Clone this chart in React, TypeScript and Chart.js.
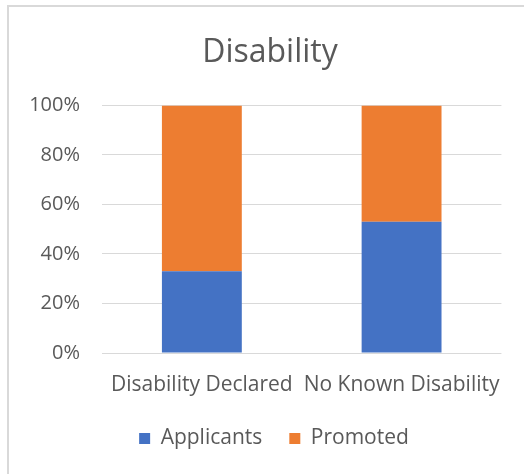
import React, { useEffect, useRef } from "react";
import { Chart, registerables } from "chart.js";

Chart.register(...registerables);

const categories = ["Disability Declared", "No Known Disability"];
const applicants = [33, 53];
const promoted = [67, 47];
const yTicks = [0, 20, 40, 60, 80, 100];

const FONT = "'Open Sans', sans-serif";
const TEXT = "#595959";

// shift title and legend horizontally to sit centred on the framed area
const shiftBlocks = {
  id: "shiftBlocks",
  afterLayout(chart: any) {
    if (chart.titleBlock) {
      chart.titleBlock.left += 19;
      chart.titleBlock.right += 19;
    }
    if (chart.legend) {
      chart.legend.left += 23;
      chart.legend.right += 23;
    }
  },
};

export default function App() {
  const ref = useRef<HTMLCanvasElement>(null);
  useEffect(() => {
    const ctx = ref.current!;
    const chart = new Chart(ctx, {
      type: "bar",
      data: {
        labels: categories,
        datasets: [
          { label: "Applicants", data: applicants, backgroundColor: "#4472C4", borderWidth: 0 },
          { label: "Promoted", data: promoted, backgroundColor: "#ED7D31", borderWidth: 0 },
        ],
      },
      plugins: [shiftBlocks],
      options: {
        animation: false,
        responsive: false,
        layout: { padding: { left: 0, right: 22, top: 0, bottom: 15 } },
        datasets: { bar: { barPercentage: 0.4, categoryPercentage: 1 } } as any,
        scales: {
          x: {
            stacked: true,
            grid: { display: false, drawTicks: false },
            border: { display: false },
            ticks: { color: TEXT, font: { family: FONT, size: 21 }, padding: 19, maxRotation: 0, autoSkip: false },
            afterFit: (axis: any) => {
              axis.height = 48;
            },
          },
          y: {
            stacked: true,
            min: 0,
            max: 100,
            afterBuildTicks: (axis: any) => {
              axis.ticks = yTicks.map((v) => ({ value: v }));
            },
            afterFit: (axis: any) => {
              axis.width = 102;
            },
            grid: { color: "#d9d9d9", lineWidth: 1, drawTicks: false },
            border: { display: false },
            ticks: {
              color: TEXT,
              font: { family: FONT, size: 20 },
              padding: 22,
              callback: (v: any) => v + "%",
            },
          },
        },
        plugins: {
          title: {
            display: true,
            text: "Disability",
            color: TEXT,
            font: { family: FONT, size: 32, weight: "normal" },
            padding: { top: 34, bottom: 33 },
          },
          legend: {
            position: "bottom",
            labels: {
              color: TEXT,
              font: { family: FONT, size: 21 },
              boxWidth: 11,
              boxHeight: 11,
              padding: 27,
            },
          },
          tooltip: { enabled: false },
        },
      },
    });
    return () => chart.destroy();
  }, []);
  return (
    <div
      style={{
        position: "fixed",
        left: 0,
        top: 0,
        width: 524,
        height: 474,
        background: "#fff",
        overflow: "hidden",
      }}
    >
      <div
        style={{
          position: "absolute",
          left: 7,
          top: 5,
          width: 700,
          height: 700,
          borderLeft: "2px solid #d9d9d9",
          borderTop: "2px solid #d9d9d9",
        }}
      />
      <canvas
        ref={ref}
        width={524}
        height={474}
        style={{ display: "block", position: "absolute", left: 0, top: 0 }}
      />
    </div>
  );
}
